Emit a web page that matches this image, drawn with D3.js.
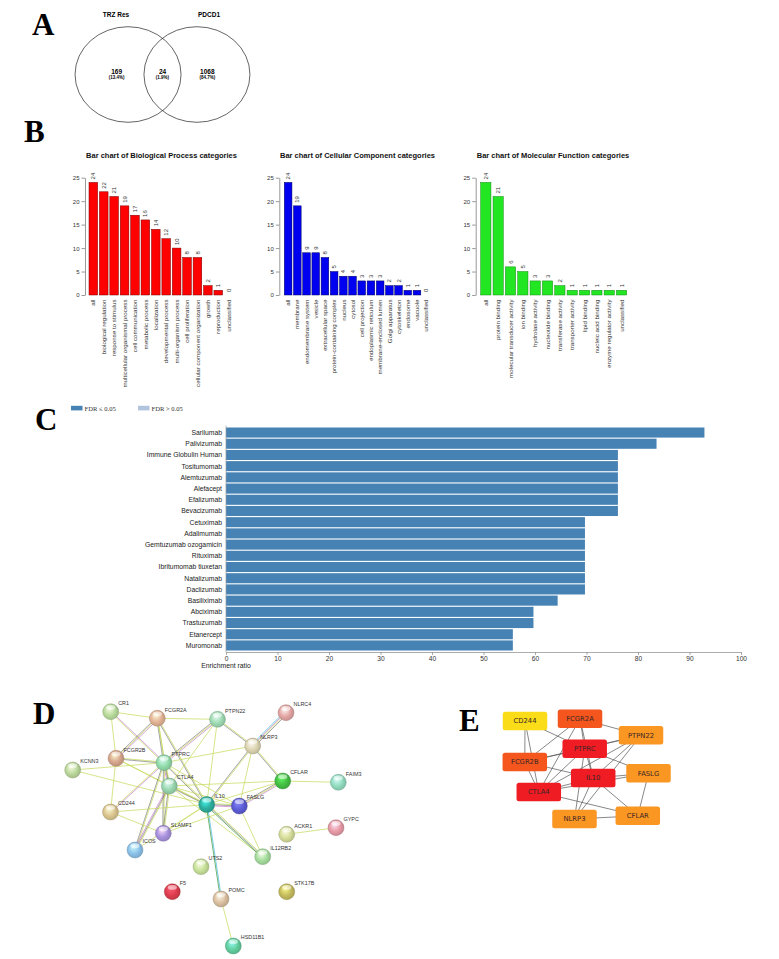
<!DOCTYPE html>
<html>
<head>
<meta charset="utf-8">
<script src="https://cdn.jsdelivr.net/npm/d3@7"></script>
<style>
  body { margin: 0; background: #fff; }
  svg { display: block; font-family: "Liberation Sans", Arial, sans-serif; }
  .letter { font-family: "Liberation Serif", "Times New Roman", serif; font-weight: bold; font-size: 31px; fill: #000; }
</style>
</head>
<body>
<div id="figure"></div>
<script>
// ---- data ----
// A: venn
const vennNames = ["TRZ Res", "PDCD1"];
const vennCounts = [169, 24, 1068];
const vennPercents = ["(13.4%)", "(1.9%)", "(84.7%)"];

// B: GO slim bar charts
const bpCategories = ["all", "biological regulation", "response to stimulus", "multicellular organismal process",
  "cell communication", "metabolic process", "localization", "developmental process", "multi-organism process",
  "cell proliferation", "cellular component organization", "growth", "reproduction", "unclassified"];
const bpValues = [24, 22, 21, 19, 17, 16, 14, 12, 10, 8, 8, 2, 1, 0];

const ccCategories = ["all", "membrane", "endomembrane system", "vesicle", "extracellular space",
  "protein-containing complex", "nucleus", "cytosol", "cell projection", "endoplasmic reticulum",
  "membrane-enclosed lumen", "Golgi apparatus", "cytoskeleton", "endosome", "vacuole", "unclassified"];
const ccValues = [24, 19, 9, 9, 8, 5, 4, 4, 3, 3, 3, 2, 2, 1, 1, 0];

const mfCategories = ["all", "protein binding", "molecular transducer activity", "ion binding",
  "hydrolase activity", "nucleotide binding", "transferase activity", "transporter activity",
  "lipid binding", "nucleic acid binding", "enzyme regulator activity", "unclassified"];
const mfValues = [24, 21, 6, 5, 3, 3, 2, 1, 1, 1, 1, 1];
const goTicks = [0, 5, 10, 15, 20, 25];

// C: drug enrichment
const drugNames = ["Sarilumab", "Palivizumab", "Immune Globulin Human", "Tositumomab", "Alemtuzumab",
  "Alefacept", "Efalizumab", "Bevacizumab", "Cetuximab", "Adalimumab", "Gemtuzumab ozogamicin",
  "Rituximab", "Ibritumomab tiuxetan", "Natalizumab", "Daclizumab", "Basiliximab", "Abciximab",
  "Trastuzumab", "Etanercept", "Muromonab"];
const drugRatios = [92.9, 83.6, 76.1, 76.1, 76.1, 76.1, 76.1, 76.1, 69.7, 69.7, 69.7,
  69.7, 69.7, 69.7, 69.7, 64.4, 59.7, 59.7, 55.7, 55.7];
const ratioTicks = [0, 10, 20, 30, 40, 50, 60, 70, 80, 90, 100];
const legendLabels = ["FDR \u2264 0.05", "FDR > 0.05"];

// D: STRING network
const stringNodes = ["CR1", "FCGR2A", "PTPN22", "FCGR2B", "KCNN3", "PTPRC", "CTLA4", "IL10", "FASLG",
  "CD244", "NLRC4", "NLRP3", "CFLAR", "FAIM3", "GYPC", "ACKR1", "SLAMF1", "ICOS", "IL12RB2",
  "UTS2", "F5", "POMC", "STK17B", "HSD11B1"];
// [source, target, evidence types]
const stringEdges = [
  ["CR1", "FCGR2A", "t"], ["CR1", "FCGR2B", "t"], ["CR1", "PTPRC", "pt"],
  ["FCGR2A", "FCGR2B", "ptk"], ["FCGR2A", "PTPN22", "t"], ["FCGR2A", "PTPRC", "tk"],
  ["FCGR2A", "CTLA4", "t"], ["FCGR2A", "IL10", "tk"],
  ["PTPN22", "PTPRC", "ptk"], ["PTPN22", "NLRP3", "tk"], ["PTPN22", "CTLA4", "t"], ["PTPN22", "IL10", "t"],
  ["NLRC4", "NLRP3", "ktpb"], ["NLRP3", "CFLAR", "tk"], ["NLRP3", "IL10", "tk"], ["NLRP3", "FASLG", "t"],
  ["NLRP3", "PTPRC", "t"], ["CFLAR", "FAIM3", "t"], ["CFLAR", "FASLG", "ptk"], ["CFLAR", "IL10", "t"],
  ["CFLAR", "CTLA4", "t"], ["FCGR2B", "PTPRC", "tk"], ["FCGR2B", "CTLA4", "t"], ["FCGR2B", "CD244", "t"],
  ["FCGR2B", "IL10", "t"], ["KCNN3", "PTPRC", "t"], ["KCNN3", "IL10", "t"],
  ["PTPRC", "CTLA4", "tkp"], ["PTPRC", "IL10", "tk"], ["PTPRC", "FASLG", "t"], ["PTPRC", "SLAMF1", "tk"],
  ["PTPRC", "ICOS", "tk"], ["PTPRC", "CD244", "pt"], ["CTLA4", "IL10", "tk"], ["CTLA4", "FASLG", "t"],
  ["CTLA4", "ICOS", "tkp"], ["CTLA4", "SLAMF1", "tk"], ["CTLA4", "IL12RB2", "t"],
  ["IL10", "FASLG", "tkp"], ["IL10", "SLAMF1", "t"], ["IL10", "IL12RB2", "tkg"], ["IL10", "POMC", "bg"],
  ["IL10", "ICOS", "t"], ["IL10", "CD244", "t"], ["CD244", "SLAMF1", "t"], ["SLAMF1", "FASLG", "t"],
  ["ACKR1", "GYPC", "t"], ["POMC", "HSD11B1", "t"], ["FASLG", "IL12RB2", "t"]
];

// E: hub genes (cytoHubba)
const hubNodes = ["CD244", "FCGR2A", "PTPN22", "PTPRC", "FCGR2B", "FASLG", "IL10", "CTLA4", "NLRP3", "CFLAR"];
const hubRank = [4, 2, 1, 3, 2, 1, 3, 3, 1, 1];
const hubEdges = [
  ["CD244", "CTLA4"], ["CD244", "FCGR2B"], ["CD244", "PTPRC"], ["FCGR2A", "PTPN22"], ["FCGR2A", "PTPRC"],
  ["FCGR2A", "IL10"], ["FCGR2A", "FCGR2B"], ["FCGR2A", "CTLA4"], ["PTPN22", "PTPRC"], ["PTPN22", "IL10"],
  ["PTPN22", "CTLA4"], ["PTPN22", "FCGR2B"], ["PTPN22", "NLRP3"], ["PTPRC", "FASLG"], ["PTPRC", "FCGR2B"],
  ["PTPRC", "CTLA4"], ["PTPRC", "IL10"], ["PTPRC", "NLRP3"], ["FCGR2B", "IL10"], ["FCGR2B", "CTLA4"],
  ["FASLG", "IL10"], ["FASLG", "CTLA4"], ["FASLG", "CFLAR"], ["IL10", "CTLA4"], ["IL10", "NLRP3"],
  ["IL10", "CFLAR"], ["CTLA4", "CFLAR"], ["NLRP3", "CFLAR"]
];

// ---- layout (panel-local units) ----
const stringLayout = {
  CR1: [50.7, 11.7], FCGR2A: [97.3, 18.3], PTPN22: [157.5, 19.3], FCGR2B: [56, 58.3], KCNN3: [12.7, 70],
  PTPRC: [104, 62.7], CTLA4: [109.3, 86], IL10: [146.7, 104.5], FASLG: [179.3, 106], CD244: [50.5, 112],
  NLRC4: [226, 12.7], NLRP3: [192.7, 46], CFLAR: [222.7, 81], FAIM3: [278.3, 82.3], GYPC: [276, 127.7],
  ACKR1: [226.7, 134.3], SLAMF1: [103.3, 133.3], ICOS: [75, 150], IL12RB2: [202.7, 156.7],
  UTS2: [141, 166.7], F5: [112.3, 191.7], POMC: [161, 199], STK17B: [226.7, 191.7], HSD11B1: [173.3, 246]
};
const stringColors = {
  CR1: "#b9dc9c", FCGR2A: "#e3b394", PTPN22: "#9fdcb4", FCGR2B: "#d7a68c", KCNN3: "#bcd99c",
  PTPRC: "#92dcaa", CTLA4: "#9ad8b0", IL10: "#2eb0a0", FASLG: "#5c5cd6", CD244: "#dcc690",
  NLRC4: "#e4a6a4", NLRP3: "#ded6b2", CFLAR: "#44c044", FAIM3: "#92dcc0", GYPC: "#e89aa6",
  ACKR1: "#d6de9a", SLAMF1: "#a892de", ICOS: "#8cc2ea", IL12RB2: "#a6de9e", UTS2: "#c8e29a",
  F5: "#de3e4e", POMC: "#dcc0a0", STK17B: "#c6bd5e", HSD11B1: "#62cfa0"
};
const evidenceColors = { t: "#c6d95a", k: "#3a3a3a", p: "#c77fc9", b: "#44b9e0", g: "#3a9a3a" };

const hubLayout = {
  CD244: [25, 21], FCGR2A: [80, 18.7], PTPN22: [141, 35.3], PTPRC: [84.7, 48.7], FCGR2B: [24.8, 62],
  FASLG: [148.5, 73.3], IL10: [93.2, 78], CTLA4: [38.8, 92], NLRP3: [74.5, 119], CFLAR: [137.8, 115.8]
};
const hubColors = { 1: "#fa9622", 2: "#f4561e", 3: "#f01c24", 4: "#fbdc18" };

// ---- drawing ----
const svg = d3.select("#figure").append("svg").attr("width", 779).attr("height", 959);

function letter(txt, x, y) {
  svg.append("text").attr("class", "letter").attr("x", x).attr("y", y).text(txt);
}
letter("A", 32, 35);
letter("B", 24, 142);
letter("C", 35, 430);
letter("D", 33, 724);
letter("E", 459, 731);

// A. venn
const xV = d3.scaleLinear().domain([0, 1]).range([162.5, 215.5]);
const yV = d3.scaleLinear().domain([0, 1]).range([74.5, 122.3]);
const vennCenters = [-0.65, 0.65];
const venn = svg.append("g");
venn.selectAll("ellipse").data(vennNames).join("ellipse")
  .attr("cx", (d, i) => xV(vennCenters[i])).attr("cy", yV(0))
  .attr("rx", xV(1) - xV(0)).attr("ry", yV(1) - yV(0))
  .attr("fill", "none").attr("stroke", "#222").attr("stroke-width", 0.7);
venn.selectAll(".vname").data(vennNames).join("text").attr("class", "vname")
  .attr("x", (d, i) => xV(vennCenters[i] * 1.35)).attr("y", 16.5)
  .attr("text-anchor", "middle").attr("font-size", 6.5).attr("font-weight", "bold").text(d => d);
const countPos = [-0.865, 0, 0.845];
venn.selectAll(".vcount").data(vennCounts).join("text").attr("class", "vcount")
  .attr("x", (d, i) => xV(countPos[i])).attr("y", 74)
  .attr("text-anchor", "middle").attr("font-size", 6.5).attr("font-weight", "bold").text(d => d);
venn.selectAll(".vpct").data(vennPercents).join("text").attr("class", "vpct")
  .attr("x", (d, i) => xV(countPos[i])).attr("y", 79)
  .attr("text-anchor", "middle").attr("font-size", 4.5).attr("font-weight", "bold").text(d => d);

// B. bar charts
function drawGoBar(opts) {
  const g = svg.append("g");
  const x = d3.scaleBand().domain(opts.categories).range([opts.barStart, opts.barEnd])
    .paddingInner(0.17).paddingOuter(0);
  const y = d3.scaleLinear().domain([0, 25]).range([295, 177.7]);

  g.append("text").attr("x", opts.titleX).attr("y", 157.5).attr("text-anchor", "middle")
    .attr("font-size", 7.5).attr("font-weight", "bold").attr("fill", "#111").text(opts.title);

  const yAxis = g.append("g").attr("transform", `translate(${opts.axisX},0)`)
    .call(d3.axisLeft(y).tickValues(goTicks).tickSize(3.5).tickSizeOuter(0).tickPadding(2));
  yAxis.selectAll("text").attr("font-size", 6).attr("fill", "#333").attr("font-family", "Liberation Sans, Arial");
  yAxis.selectAll("line,path").attr("stroke", "#555").attr("stroke-width", 0.6);

  const values = opts.values;
  g.selectAll("rect").data(opts.categories).join("rect")
    .attr("x", d => x(d)).attr("width", x.bandwidth())
    .attr("y", (d, i) => y(values[i])).attr("height", (d, i) => y(0) - y(values[i]))
    .attr("fill", opts.color).attr("stroke", opts.stroke).attr("stroke-width", 0.5);

  g.selectAll(".val").data(opts.categories).join("text").attr("class", "val")
    .attr("transform", (d, i) => `translate(${x(d) + x.bandwidth() / 2},${y(values[i]) - 3}) rotate(-90)`)
    .attr("dy", "0.35em").attr("font-size", 6).attr("fill", "#333").text((d, i) => values[i]);

  g.selectAll(".cat").data(opts.categories).join("text").attr("class", "cat")
    .attr("transform", d => `translate(${x(d) + x.bandwidth() / 2},299.5) rotate(-90)`)
    .attr("dy", "0.35em").attr("text-anchor", "end").attr("font-size", 6.2).attr("fill", "#333").text(d => d);
}

drawGoBar({ title: "Bar chart of Biological Process categories", categories: bpCategories, values: bpValues,
  axisX: 85, barStart: 89, barEnd: 233, titleX: 161.5, color: "#ff0000", stroke: "#7a0000" });
drawGoBar({ title: "Bar chart of Cellular Component categories", categories: ccCategories, values: ccValues,
  axisX: 279.3, barStart: 284.3, barEnd: 430, titleX: 357.5, color: "#0000f0", stroke: "#000060" });
drawGoBar({ title: "Bar chart of Molecular Function categories", categories: mfCategories, values: mfValues,
  axisX: 475.7, barStart: 480.7, barEnd: 626.7, titleX: 553, color: "#22e622", stroke: "#148a14" });

// C. enrichment bar chart
const gC = svg.append("g");
const xC = d3.scaleLinear().domain([0, 100]).range([226, 741]);
const yC = d3.scaleBand().domain(drugNames).range([427.5, 650.5]).paddingInner(0.1);
const legendColors = ["#4682b4", "#b0c4de"];
const legendX = [71, 138];
gC.selectAll(".lg").data(legendLabels).join("rect").attr("class", "lg")
  .attr("x", (d, i) => legendX[i]).attr("y", 405.8).attr("width", 11.5).attr("height", 4.6)
  .attr("fill", (d, i) => legendColors[i]);
gC.selectAll(".lgt").data(legendLabels).join("text").attr("class", "lgt")
  .attr("x", (d, i) => legendX[i] + 13.5).attr("y", 410.5)
  .attr("font-family", "Liberation Serif, Times New Roman, serif").attr("font-size", 6.6).attr("fill", "#333")
  .text(d => d);

gC.selectAll(".bar").data(drugNames).join("rect").attr("class", "bar")
  .attr("x", xC(0)).attr("y", d => yC(d)).attr("height", yC.bandwidth())
  .attr("width", (d, i) => xC(drugRatios[i]) - xC(0)).attr("fill", "#4682b4");
gC.selectAll(".drug").data(drugNames).join("text").attr("class", "drug")
  .attr("x", 222).attr("y", d => yC(d) + yC.bandwidth() / 2).attr("dy", "0.35em")
  .attr("text-anchor", "end").attr("font-size", 6.8).attr("fill", "#222").text(d => d);
gC.append("line").attr("x1", xC(0)).attr("x2", xC(0)).attr("y1", 425.5).attr("y2", 652)
  .attr("stroke", "#999").attr("stroke-width", 0.7);
const xAxisC = gC.append("g").attr("transform", "translate(0,652)")
  .call(d3.axisBottom(xC).tickValues(ratioTicks).tickSize(3).tickSizeOuter(0).tickPadding(1.5));
xAxisC.selectAll("text").attr("font-size", 6.6).attr("fill", "#333").attr("font-family", "Liberation Sans, Arial");
xAxisC.selectAll("line,path").attr("stroke", "#888").attr("stroke-width", 0.7);
gC.append("text").attr("x", xC(0)).attr("y", 668).attr("text-anchor", "middle")
  .attr("font-size", 6.8).attr("fill", "#222").text("Enrichment ratio");

// D. STRING network
const gD = svg.append("g");
const xD = d3.scaleLinear().domain([0, 300]).range([60, 360]);
const yD = d3.scaleLinear().domain([0, 250]).range([700, 950]);
const defs = svg.append("defs");
stringNodes.forEach(n => {
  const c = d3.color(stringColors[n]);
  const grad = defs.append("radialGradient").attr("id", "g_" + n)
    .attr("cx", "45%").attr("cy", "55%").attr("r", "60%").attr("fx", "40%").attr("fy", "25%");
  grad.append("stop").attr("offset", "0%").attr("stop-color", c.brighter(1.2));
  grad.append("stop").attr("offset", "55%").attr("stop-color", c);
  grad.append("stop").attr("offset", "100%").attr("stop-color", c.darker(0.6));
});

stringEdges.forEach(e => {
  const a = stringLayout[e[0]], b = stringLayout[e[1]];
  const x1 = xD(a[0]), y1 = yD(a[1]), x2 = xD(b[0]), y2 = yD(b[1]);
  const len = Math.hypot(x2 - x1, y2 - y1);
  const nx = -(y2 - y1) / len, ny = (x2 - x1) / len;
  const types = e[2].split("");
  types.forEach((t, k) => {
    const off = (k - (types.length - 1) / 2) * 1.1;
    gD.append("line")
      .attr("x1", x1 + nx * off).attr("y1", y1 + ny * off)
      .attr("x2", x2 + nx * off).attr("y2", y2 + ny * off)
      .attr("stroke", evidenceColors[t]).attr("stroke-width", t === "k" ? 0.5 : 0.8)
      .attr("stroke-opacity", 0.9);
  });
});

gD.selectAll("circle").data(stringNodes).join("circle")
  .attr("cx", d => xD(stringLayout[d][0])).attr("cy", d => yD(stringLayout[d][1])).attr("r", 8)
  .attr("fill", d => `url(#g_${d})`)
  .attr("stroke", d => d3.color(stringColors[d]).darker(0.9)).attr("stroke-width", 0.4);
gD.selectAll(".hl").data(stringNodes).join("ellipse").attr("class", "hl")
  .attr("cx", d => xD(stringLayout[d][0])).attr("cy", d => yD(stringLayout[d][1]) - 4.3)
  .attr("rx", 4.6).attr("ry", 2.4).attr("fill", "#fff").attr("fill-opacity", 0.55);
gD.selectAll(".nl").data(stringNodes).join("text").attr("class", "nl")
  .attr("x", d => xD(stringLayout[d][0]) + 7.5).attr("y", d => yD(stringLayout[d][1]) - 6.8)
  .attr("font-size", 5.4).attr("fill", "#333").text(d => d);

// E. hub network
const gE = svg.append("g");
const xE = d3.scaleLinear().domain([0, 200]).range([500, 700]);
const yE = d3.scaleLinear().domain([0, 200]).range([700, 900]);
gE.selectAll("line").data(hubEdges).join("line")
  .attr("x1", d => xE(hubLayout[d[0]][0])).attr("y1", d => yE(hubLayout[d[0]][1]))
  .attr("x2", d => xE(hubLayout[d[1]][0])).attr("y2", d => yE(hubLayout[d[1]][1]))
  .attr("stroke", "#555").attr("stroke-width", 0.7);
const boxW = 44.5, boxH = 18.5;
gE.selectAll("rect").data(hubNodes).join("rect")
  .attr("x", d => xE(hubLayout[d][0]) - boxW / 2).attr("y", d => yE(hubLayout[d][1]) - boxH / 2)
  .attr("width", boxW).attr("height", boxH).attr("rx", 2.5)
  .attr("fill", (d, i) => hubColors[hubRank[i]]);
gE.selectAll("text").data(hubNodes).join("text")
  .attr("x", d => xE(hubLayout[d][0])).attr("y", d => yE(hubLayout[d][1])).attr("dy", "0.36em")
  .attr("text-anchor", "middle").attr("font-family", "DejaVu Sans, sans-serif").attr("font-size", 6.8)
  .attr("fill", "#3a2626").text(d => d);
</script>
</body>
</html>
